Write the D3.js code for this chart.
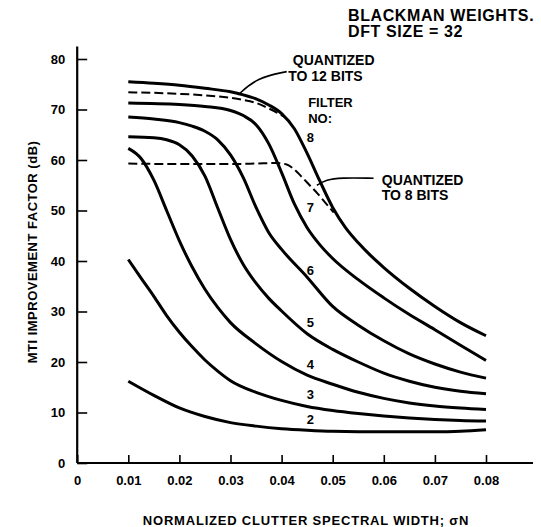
<!DOCTYPE html>
<html>
<head>
<meta charset="utf-8">
<script src="https://cdn.jsdelivr.net/npm/d3@7"></script>
<style>
  body { margin: 0; background: #fff; }
  svg text { font-family: "Liberation Sans", Arial, Helvetica, sans-serif; font-weight: bold; fill: #000; }
</style>
</head>
<body>
<div id="chart"></div>
<script>
// values: [spectral width, improvement factor dB]
var filter2 = [[0.01,16.2],[0.015,13.4],[0.02,10.9],[0.025,9.2],[0.03,8.0],[0.035,7.3],[0.04,6.8],[0.045,6.5],[0.05,6.3],[0.06,6.2],[0.07,6.2],[0.075,6.3],[0.08,6.6]];
var filter3 = [[0.01,40.3],[0.0125,36.6],[0.015,33.0],[0.0175,29.2],[0.02,25.9],[0.0225,23.0],[0.025,20.4],[0.0275,18.2],[0.03,16.3],[0.035,14.0],[0.04,12.4],[0.045,11.2],[0.05,10.4],[0.055,9.8],[0.06,9.3],[0.065,8.9],[0.07,8.6],[0.075,8.4],[0.08,8.3]];
var filter4 = [[0.01,62.3],[0.0125,60.3],[0.015,56.0],[0.0175,50.0],[0.02,44.0],[0.0225,38.8],[0.025,34.4],[0.0275,30.8],[0.03,27.8],[0.035,23.6],[0.04,20.1],[0.045,17.4],[0.05,15.6],[0.055,14.0],[0.06,12.8],[0.065,11.9],[0.07,11.3],[0.075,10.9],[0.08,10.6]];
var filter5 = [[0.01,64.6],[0.015,64.4],[0.0175,64.0],[0.02,63.0],[0.0225,60.8],[0.025,56.8],[0.0275,50.5],[0.03,44.3],[0.0325,39.3],[0.035,35.6],[0.0375,32.6],[0.04,30.1],[0.045,25.6],[0.05,22.5],[0.055,20.0],[0.06,17.8],[0.065,16.2],[0.07,15.0],[0.075,14.2],[0.08,13.7]];
var filter6 = [[0.01,68.5],[0.015,68.1],[0.02,67.4],[0.0225,66.7],[0.025,65.7],[0.0275,64.0],[0.03,61.0],[0.0325,56.5],[0.035,50.6],[0.0375,45.6],[0.04,42.3],[0.045,36.8],[0.05,31.0],[0.055,27.3],[0.06,24.2],[0.065,21.6],[0.07,19.6],[0.075,18.0],[0.08,16.8]];
var filter7 = [[0.01,71.3],[0.02,71.0],[0.025,70.6],[0.03,69.8],[0.0325,68.8],[0.035,67.0],[0.0375,63.2],[0.04,57.5],[0.0425,51.3],[0.045,46.6],[0.0475,43.2],[0.05,40.5],[0.055,36.3],[0.06,32.7],[0.065,29.4],[0.07,26.4],[0.075,23.3],[0.08,20.3]];
var filter8 = [[0.01,75.5],[0.015,75.2],[0.02,74.8],[0.025,74.2],[0.03,73.5],[0.0325,72.9],[0.035,72.1],[0.0375,70.9],[0.04,69.2],[0.0425,66.2],[0.045,61.3],[0.0475,55.8],[0.05,50.6],[0.0525,46.6],[0.055,43.6],[0.0575,41.0],[0.06,38.7],[0.065,34.6],[0.07,31.0],[0.075,27.8],[0.08,25.2]];
var quant12 = [[0.01,73.4],[0.015,73.3],[0.02,73.1],[0.025,72.8],[0.03,72.3],[0.0325,71.9],[0.035,71.3],[0.0375,70.2],[0.0405,68.6]];
var quant8 = [[0.01,59.3],[0.02,59.2],[0.03,59.2],[0.035,59.3],[0.039,59.4],[0.041,59.1],[0.0425,58.1],[0.044,56.6],[0.0455,55.0],[0.047,53.4],[0.0485,51.6],[0.0502,49.6]];

var filterNames = ['2', '3', '4', '5', '6', '7', '8'];
var filterLabelDb = [7.7, 12.7, 18.6, 26.9, 37.2, 49.8, 63.6];

var xTicks = [0, 0.01, 0.02, 0.03, 0.04, 0.05, 0.06, 0.07, 0.08];
var xTickLabels = ['0', '0.01', '0.02', '0.03', '0.04', '0.05', '0.06', '0.07', '0.08'];
var yTicks = [0, 10, 20, 30, 40, 50, 60, 70, 80];

var width = 541, height = 527;

var x = d3.scaleLinear().domain([0, 0.08]).range([77.2, 486]);
var y = d3.scaleLinear().domain([0, 80]).range([463, 59]);

var svg = d3.select('#chart').append('svg')
  .attr('width', width)
  .attr('height', height);

var line = d3.line()
  .x(d => x(d[0]))
  .y(d => y(d[1]))
  .curve(d3.curveMonotoneX);

// axes
var xAxis = d3.axisBottom(x)
  .tickValues(xTicks)
  .tickFormat((d, i) => xTickLabels[i])
  .tickSizeInner(-8)
  .tickSizeOuter(0)
  .tickPadding(13);

var yAxis = d3.axisLeft(y)
  .tickValues(yTicks)
  .tickSizeInner(-10)
  .tickSizeOuter(0)
  .tickPadding(12);

var gx = svg.append('g')
  .attr('transform', `translate(0, ${y(0)})`)
  .call(xAxis);
var gy = svg.append('g')
  .attr('transform', `translate(${x(0)}, 0)`)
  .call(yAxis);

[gx, gy].forEach(g => {
  g.select('.domain').remove();
  g.selectAll('.tick line').attr('stroke', '#000').attr('stroke-width', 1.6);
  g.selectAll('.tick text').style('font-size', '13px').attr('fill', '#000');
});

// axis lines
svg.append('line')
  .attr('x1', x(0)).attr('x2', 533)
  .attr('y1', y(0)).attr('y2', y(0))
  .attr('stroke', '#000').attr('stroke-width', 2.2);
svg.append('line')
  .attr('x1', x(0)).attr('x2', x(0))
  .attr('y1', y(0)).attr('y2', y(82.5))
  .attr('stroke', '#000').attr('stroke-width', 2.2);

// curves
var filters = [filter2, filter3, filter4, filter5, filter6, filter7, filter8];
svg.selectAll('.filter')
  .data(filters)
  .enter().append('path')
  .attr('class', 'filter')
  .attr('d', line)
  .attr('fill', 'none')
  .attr('stroke', '#000')
  .attr('stroke-width', 3);

svg.selectAll('.quant')
  .data([quant12, quant8])
  .enter().append('path')
  .attr('class', 'quant')
  .attr('d', line)
  .attr('fill', 'none')
  .attr('stroke', '#000')
  .attr('stroke-width', 2)
  .attr('stroke-dasharray', '9,4');

// filter numbers
svg.selectAll('.fno')
  .data(filterNames)
  .enter().append('text')
  .attr('class', 'fno')
  .attr('x', x(0.0449))
  .attr('y', (d, i) => y(filterLabelDb[i]))
  .style('font-size', '13px')
  .text(d => d);

function note(txt, xv, yv, size) {
  svg.append('text')
    .attr('x', x(xv))
    .attr('y', y(yv))
    .style('font-size', size + 'px')
    .text(txt);
}
note('FILTER', 0.0452, 70.5, 13);
note('NO:', 0.0452, 67.3, 13);
note('QUANTIZED', 0.0422, 78.8, 14);
note('TO 12 BITS', 0.0413, 75.6, 14);
note('QUANTIZED', 0.0596, 55.0, 14);
note('TO 8 BITS', 0.0596, 52.1, 14);

// leader lines
var leader = d3.line().x(d => x(d[0])).y(d => y(d[1])).curve(d3.curveBasis);
svg.append('path')
  .attr('d', leader([[0.041, 77.5], [0.0352, 76.3], [0.0315, 72.9]]))
  .attr('fill', 'none').attr('stroke', '#000').attr('stroke-width', 1.6);
svg.append('path')
  .attr('d', leader([[0.058, 56.4], [0.0514, 56.5], [0.0488, 56.1], [0.0469, 55.0]]))
  .attr('fill', 'none').attr('stroke', '#000').attr('stroke-width', 1.6);

// titles
svg.append('text')
  .attr('x', 348).attr('y', 21)
  .style('font-size', '16px').style('letter-spacing', '0.6px')
  .text('BLACKMAN WEIGHTS.');
svg.append('text')
  .attr('x', 348).attr('y', 37)
  .style('font-size', '16px').style('letter-spacing', '0.6px')
  .text('DFT SIZE = 32');

svg.append('text')
  .attr('transform', 'translate(36.5, 252) rotate(-90)')
  .attr('text-anchor', 'middle')
  .style('font-size', '13px').style('letter-spacing', '0.5px')
  .text('MTI IMPROVEMENT FACTOR (dB)');

svg.append('text')
  .attr('x', 306).attr('y', 525)
  .attr('text-anchor', 'middle')
  .style('font-size', '13px').style('letter-spacing', '0.8px')
  .text('NORMALIZED CLUTTER SPECTRAL WIDTH; σN');
</script>
</body>
</html>
